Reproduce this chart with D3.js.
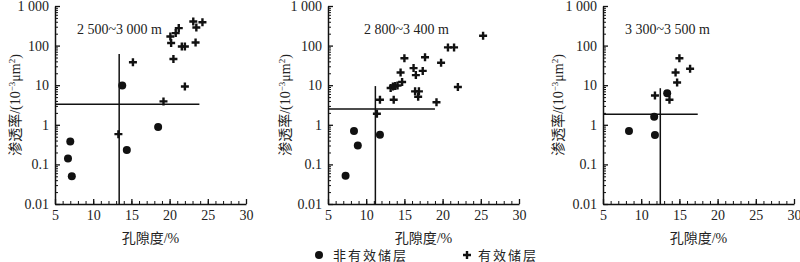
<!DOCTYPE html>
<html>
<head>
<meta charset="utf-8">
<script src="https://cdn.jsdelivr.net/npm/d3@7"></script>
<style>
  body { margin: 0; background: #fff; }
  svg { display: block; font-family: "Liberation Serif", "Noto Sans CJK SC", serif; }
</style>
</head>
<body>
<svg width="800" height="262"></svg>
<script>
// depth intervals
const depthLabels = ['2 500~3 000 m', '2 800~3 400 m', '3 300~3 500 m'];

// [porosity %, permeability 10^-3 um^2]
const invalid1 = [[6.7, 0.14], [7.0, 0.38], [7.2, 0.05], [13.8, 9.8], [14.4, 0.23], [18.5, 0.88]];
const valid1 = [[13.3, 0.58], [15.2, 38], [19.2, 3.9], [20.5, 46], [20.1, 170], [20.2, 116], [20.8, 207],
    [21.2, 277], [21.6, 95], [22.0, 95], [23.1, 405], [23.5, 286], [24.3, 390], [23.4, 120], [22.0, 9.3]];

const invalid2 = [[7.3, 0.052], [8.4, 0.70], [8.9, 0.30], [11.8, 0.56]];
const valid2 = [[25.3, 177], [20.7, 90], [21.5, 90], [15.0, 48], [17.7, 51], [19.8, 37], [14.5, 21],
    [16.2, 27], [16.5, 18], [17.4, 23], [14.7, 12], [13.2, 8.5], [13.5, 9.3], [13.8, 9.6], [14.1, 9.8],
    [16.4, 7.0], [16.9, 7.0], [16.8, 5.1], [22.0, 9.0], [19.2, 3.7], [13.6, 4.3], [11.8, 4.3], [11.4, 1.9]];

const invalid3 = [[8.4, 0.70], [11.7, 1.6], [11.8, 0.55], [13.4, 6.3]];
const valid3 = [[11.8, 5.5], [13.7, 4.3], [15.0, 48], [14.5, 21], [14.7, 11.7], [16.4, 26]];

// cutoff lines: porosity cutoff + top of its line, permeability cutoff + right end of its line
const porosityCutoff = [13.4, 11.2, 12.5];
const porosityLineTop = [61, 9.5, 8.4];
const permCutoff = [3.3, 2.5, 1.85];
const permLineEnd = [23.9, 19.0, 17.4];

const xTicks = [5, 10, 15, 20, 25, 30];
const yTicks = [0.01, 0.1, 1, 10, 100, 1000];
const yTickLabels = ['0.01', '0.1', '1', '10', '100', '1 000'];

const invalidSets = [invalid1, invalid2, invalid3];
const validSets = [valid1, valid2, valid3];

const panelLeft = [55, 328, 603];
const plotTop = 6;
const plotW = 191;
const plotH = 198;
const ink = '#111';

const x = d3.scaleLinear().domain([5, 30]).range([0, plotW]);
const y = d3.scaleLog().domain([0.01, 1000]).range([plotH, 0]);

const yMinor = [];
yTicks.slice(0, -1).forEach(t => { for (let k = 2; k <= 9; k++) yMinor.push(t * k); });
const xMinor = d3.range(5, 31, 1);

const svg = d3.select('svg');
const crossPath = 'M-4,0H4M0,-4V4';

panelLeft.forEach((left, i) => {
    const g = svg.append('g').attr('transform', `translate(${left},${plotTop})`);

    // minor ticks
    g.append('g')
        .call(d3.axisLeft(y).tickValues(yMinor).tickSize(-3).tickSizeOuter(0).tickFormat(''))
        .call(a => a.select('.domain').remove())
        .selectAll('line').attr('stroke', ink);
    g.append('g')
        .attr('transform', `translate(0,${plotH})`)
        .call(d3.axisBottom(x).tickValues(xMinor).tickSize(-3).tickSizeOuter(0).tickFormat(''))
        .call(a => a.select('.domain').remove())
        .selectAll('line').attr('stroke', ink);

    // major axes
    const ya = g.append('g')
        .call(d3.axisLeft(y).tickValues(yTicks).tickSize(-5).tickSizeOuter(0).tickPadding(6)
            .tickFormat((d, j) => yTickLabels[j]));
    const xa = g.append('g')
        .attr('transform', `translate(0,${plotH})`)
        .call(d3.axisBottom(x).tickValues(xTicks).tickSize(-5).tickSizeOuter(0).tickPadding(6));
    [ya, xa].forEach(a => {
        a.select('.domain').attr('stroke', ink).attr('stroke-width', 1.5);
        a.selectAll('line').attr('stroke', ink).attr('stroke-width', 1.3);
        a.selectAll('text').attr('font-size', '14px').attr('fill', '#222')
            .attr('font-family', '"Liberation Serif", serif');
    });

    // cutoff lines
    g.append('line')
        .attr('x1', x(porosityCutoff[i])).attr('x2', x(porosityCutoff[i]))
        .attr('y1', y(0.01)).attr('y2', y(porosityLineTop[i]))
        .attr('stroke', ink).attr('stroke-width', 1.5);
    g.append('line')
        .attr('x1', x(5)).attr('x2', x(permLineEnd[i]))
        .attr('y1', y(permCutoff[i])).attr('y2', y(permCutoff[i]))
        .attr('stroke', ink).attr('stroke-width', 1.5);

    // points
    g.selectAll('circle.inv')
        .data(invalidSets[i])
        .enter()
        .append('circle')
        .attr('class', 'inv')
        .attr('cx', d => x(d[0]))
        .attr('cy', d => y(d[1]))
        .attr('r', 4)
        .attr('fill', ink);
    g.selectAll('path.val')
        .data(validSets[i])
        .enter()
        .append('path')
        .attr('class', 'val')
        .attr('d', crossPath)
        .attr('transform', d => `translate(${x(d[0])},${y(d[1])})`)
        .attr('stroke', ink)
        .attr('stroke-width', 2.4);

    // depth label
    g.append('text')
        .attr('x', i === 1 ? 36 : 22)
        .attr('y', 28)
        .attr('font-size', '14px')
        .attr('fill', '#222')
        .text(depthLabels[i]);

    // axis titles
    g.append('text')
        .attr('x', plotW / 2)
        .attr('y', plotH + 39)
        .attr('text-anchor', 'middle')
        .attr('font-size', '14px')
        .attr('fill', '#222')
        .text('孔隙度/%');

    const yl = g.append('text')
        .attr('transform', `translate(${i === 0 ? -40 : i === 1 ? -43 : -45},${plotH / 2}) rotate(-90)`)
        .attr('text-anchor', 'middle')
        .attr('dy', '0.35em')
        .attr('font-size', '14px')
        .attr('fill', '#222');
    yl.append('tspan').text('渗透率/(10');
    yl.append('tspan').attr('dy', -5).attr('font-size', '9px').text('−3');
    yl.append('tspan').attr('dy', 5).text('μm');
    yl.append('tspan').attr('dy', -5).attr('font-size', '9px').text('2');
    yl.append('tspan').attr('dy', 5).text(')');
});

// legend
const legend = svg.append('g').attr('transform', 'translate(0,255)');
legend.append('circle').attr('cx', 319).attr('cy', 0).attr('r', 4).attr('fill', ink);
legend.append('text').attr('x', 333).attr('dy', '0.35em').attr('font-size', '13px')
    .attr('letter-spacing', '2px').attr('fill', '#222').text('非有效储层');
legend.append('path').attr('d', crossPath).attr('transform', 'translate(467,0)')
    .attr('stroke', ink).attr('stroke-width', 2.4);
legend.append('text').attr('x', 478).attr('dy', '0.35em').attr('font-size', '13px')
    .attr('letter-spacing', '2px').attr('fill', '#222').text('有效储层');
</script>
</body>
</html>
